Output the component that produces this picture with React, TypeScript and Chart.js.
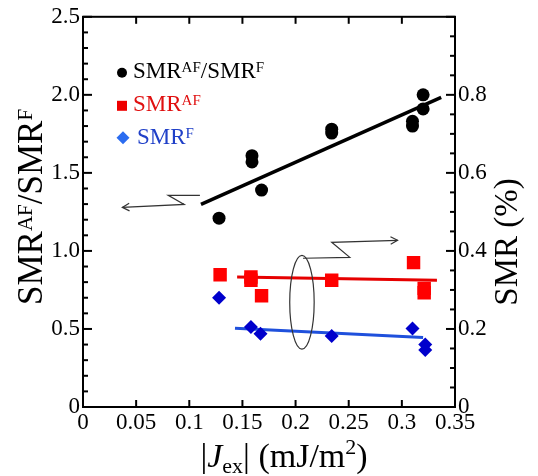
import React, { useEffect, useRef } from 'react';
import { Chart, registerables } from 'chart.js';
Chart.register(...registerables);

// ---- data ----
const xTickLabels = ['0', '0.05', '0.1', '0.15', '0.2', '0.25', '0.3', '0.35'];
const leftTickLabels = ['0', '0.5', '1.0', '1.5', '2.0', '2.5'];
const rightTickLabels = ['0', '0.2', '0.4', '0.6', '0.8', ''];

// SMR^AF / SMR^F (left axis)
const ratioX = [0.128, 0.159, 0.159, 0.168, 0.234, 0.234, 0.310, 0.310, 0.320, 0.320];
const ratioY = [1.21, 1.61, 1.57, 1.39, 1.78, 1.755, 1.83, 1.80, 2.00, 1.91];

// SMR^AF (%) (right axis)
const afX = [0.129, 0.158, 0.158, 0.168, 0.234, 0.311, 0.321, 0.321];
const afY = [0.339, 0.333, 0.325, 0.285, 0.325, 0.370, 0.304, 0.293];

// SMR^F (%) (right axis)
const fX = [0.128, 0.158, 0.167, 0.234, 0.310, 0.322, 0.322];
const fY = [0.280, 0.205, 0.188, 0.182, 0.201, 0.160, 0.146];

// linear fits
const ratioFitX = [0.111, 0.337];
const ratioFitY = [1.298, 1.984];
const afFitX = [0.145, 0.333];
const afFitY = [0.333, 0.325];
const fFitX = [0.143, 0.320];
const fFitY = [0.202, 0.178];

const toPts = (xs: number[], ys: number[]) => xs.map((x, i) => ({ x, y: ys[i] }));

const SERIF = '"Liberation Serif", "Times New Roman", serif';

type Seg = { t: string; size: number; dy?: number; italic?: boolean };

function richWidth(ctx: CanvasRenderingContext2D, segs: Seg[]) {
  let w = 0;
  for (const s of segs) {
    ctx.font = `${s.italic ? 'italic ' : ''}${s.size}px ${SERIF}`;
    w += ctx.measureText(s.t).width;
  }
  return w;
}

function drawRich(ctx: CanvasRenderingContext2D, segs: Seg[], x: number, y: number, color: string, align: 'left' | 'center') {
  const total = richWidth(ctx, segs);
  let cx = align === 'center' ? x - total / 2 : x;
  ctx.fillStyle = color;
  ctx.textAlign = 'left';
  ctx.textBaseline = 'alphabetic';
  for (const s of segs) {
    ctx.font = `${s.italic ? 'italic ' : ''}${s.size}px ${SERIF}`;
    ctx.fillText(s.t, cx, y + (s.dy || 0));
    cx += ctx.measureText(s.t).width;
  }
}

const decorPlugin = {
  id: 'decor',
  afterDatasetsDraw(chart: any) {
    const { ctx, chartArea: a, scales } = chart;
    const xs = scales.x, yl = scales.y, yr = scales.y2;
    ctx.save();
    const line = (x1: number, y1: number, x2: number, y2: number) => {
      ctx.beginPath();
      ctx.moveTo(x1, y1);
      ctx.lineTo(x2, y2);
      ctx.stroke();
    };
    // frame
    ctx.strokeStyle = '#000';
    ctx.lineWidth = 2;
    ctx.strokeRect(a.left, a.top, a.right - a.left, a.bottom - a.top);
    // x ticks (inside, top and bottom)
    xs.ticks.forEach((t: any) => {
      const px = xs.getPixelForValue(t.value);
      line(px, a.bottom, px, a.bottom - 7);
      line(px, a.top, px, a.top + 7);
    });
    // left ticks
    for (let k = 0; k <= 25; k++) {
      const py = yl.getPixelForValue(k / 10);
      line(a.left, py, a.left + (k % 5 === 0 ? 9 : 5), py);
    }
    // right ticks
    for (let k = 0; k <= 20; k++) {
      const py = yr.getPixelForValue(k * 0.05);
      line(a.right - (k % 4 === 0 ? 9 : 5), py, a.right, py);
    }

    // annotations (data coords on left axis)
    const P = (x: number, y: number) => [xs.getPixelForValue(x), yl.getPixelForValue(y)];
    ctx.strokeStyle = '#333';
    ctx.lineWidth = 1.2;
    const poly = (pts: number[][]) => {
      ctx.beginPath();
      ctx.moveTo(pts[0][0], pts[0][1]);
      for (let i = 1; i < pts.length; i++) ctx.lineTo(pts[i][0], pts[i][1]);
      ctx.stroke();
    };
    const head = (tip: number[], from: number[]) => {
      const ang = Math.atan2(tip[1] - from[1], tip[0] - from[0]);
      const L = 8, sp = 0.5;
      poly([
        [tip[0] - L * Math.cos(ang - sp), tip[1] - L * Math.sin(ang - sp)],
        tip,
        [tip[0] - L * Math.cos(ang + sp), tip[1] - L * Math.sin(ang + sp)],
      ]);
    };
    const lA = [P(0.110, 1.356), P(0.0802, 1.356), P(0.0952, 1.298), P(0.037, 1.279)];
    poly(lA);
    head(lA[3], lA[2]);
    const rA = [P(0.207, 0.953), P(0.251, 0.959), P(0.234, 1.055), P(0.296, 1.068)];
    poly(rA);
    head(rA[3], rA[2]);
    // ellipse
    const c = P(0.206, 0.671);
    const rx = xs.getPixelForValue(0.206 + 0.0115) - c[0];
    const ry = yl.getPixelForValue(0.671) - yl.getPixelForValue(0.671 + 0.30);
    ctx.beginPath();
    ctx.ellipse(c[0], c[1], rx, ry, 0, 0, Math.PI * 2);
    ctx.stroke();

    // legend
    const lx = a.left + 39;
    ctx.fillStyle = '#000';
    ctx.beginPath();
    ctx.arc(lx, a.top + 56, 5, 0, Math.PI * 2);
    ctx.fill();
    drawRich(ctx, [{ t: 'SMR', size: 23 }, { t: 'AF', size: 15, dy: -6 }, { t: '/SMR', size: 23 }, { t: 'F', size: 15, dy: -6 }], a.left + 50, a.top + 61, '#000', 'left');
    ctx.fillStyle = '#ee0000';
    ctx.fillRect(lx - 5, a.top + 84, 10, 10);
    drawRich(ctx, [{ t: 'SMR', size: 23 }, { t: 'AF', size: 15, dy: -6 }], a.left + 50, a.top + 94, '#e01010', 'left');
    ctx.fillStyle = '#2b6cf0';
    ctx.beginPath();
    const dy0 = a.top + 121;
    ctx.moveTo(lx + 1, dy0 - 6.5);
    ctx.lineTo(lx + 7.5, dy0);
    ctx.lineTo(lx + 1, dy0 + 6.5);
    ctx.lineTo(lx - 5.5, dy0);
    ctx.closePath();
    ctx.fill();
    drawRich(ctx, [{ t: 'SMR', size: 23 }, { t: 'F', size: 15, dy: -6 }], a.left + 54, a.top + 127, '#2040c8', 'left');

    // axis titles
    ctx.save();
    ctx.translate(42, 207);
    ctx.rotate(-Math.PI / 2);
    drawRich(ctx, [{ t: 'SMR', size: 35 }, { t: 'AF', size: 21, dy: -10 }, { t: '/SMR', size: 35 }, { t: 'F', size: 21, dy: -10 }], 0, 0, '#000', 'center');
    ctx.restore();

    ctx.save();
    ctx.translate(517, 242);
    ctx.rotate(-Math.PI / 2);
    drawRich(ctx, [{ t: 'SMR (%)', size: 33 }], 0, 0, '#000', 'center');
    ctx.restore();

    drawRich(ctx, [
      { t: '|', size: 34 },
      { t: 'J', size: 34, italic: true },
      { t: 'ex', size: 22, dy: 6 },
      { t: '| (mJ/m', size: 34 },
      { t: '2', size: 22, dy: -13 },
      { t: ')', size: 34 },
    ], 284, 467, '#000', 'center');

    ctx.restore();
  },
};

export default function App() {
  const ref = useRef<HTMLCanvasElement>(null);
  useEffect(() => {
    const tickFont = { family: SERIF, size: 23 };
    const chart = new Chart(ref.current!, {
      type: 'scatter',
      data: {
        datasets: [
          {
            label: 'SMRAF/SMRF',
            data: toPts(ratioX, ratioY),
            yAxisID: 'y',
            pointStyle: 'circle',
            pointRadius: 6.5,
            backgroundColor: '#000',
            borderColor: '#000',
            borderWidth: 0,
            order: 0,
          },
          {
            label: 'SMRAF',
            data: toPts(afX, afY),
            yAxisID: 'y2',
            pointStyle: 'rect',
            pointRadius: 9.5,
            backgroundColor: '#ff0000',
            borderColor: '#ff0000',
            borderWidth: 0,
            order: 0,
          },
          {
            label: 'SMRF',
            data: toPts(fX, fY),
            yAxisID: 'y2',
            pointStyle: 'rectRot',
            pointRadius: 7,
            backgroundColor: '#0000cc',
            borderColor: '#0000cc',
            borderWidth: 0,
            order: 0,
          },
          {
            type: 'line',
            label: 'fit ratio',
            data: toPts(ratioFitX, ratioFitY),
            yAxisID: 'y',
            borderColor: '#000',
            borderWidth: 3.5,
            pointRadius: 0,
            showLine: true,
            order: 1,
          } as any,
          {
            type: 'line',
            label: 'fit AF',
            data: toPts(afFitX, afFitY),
            yAxisID: 'y2',
            borderColor: '#e60000',
            borderWidth: 3,
            pointRadius: 0,
            showLine: true,
            order: 1,
          } as any,
          {
            type: 'line',
            label: 'fit F',
            data: toPts(fFitX, fFitY),
            yAxisID: 'y2',
            borderColor: '#1f50dc',
            borderWidth: 3,
            pointRadius: 0,
            showLine: true,
            order: 1,
          } as any,
        ],
      },
      options: {
        responsive: false,
        animation: false,
        layout: { padding: { top: 16, left: 0, right: 0, bottom: 0 } },
        plugins: { legend: { display: false }, tooltip: { enabled: false } },
        scales: {
          x: {
            type: 'linear',
            position: 'bottom',
            min: 0,
            max: 0.35,
            grid: { display: false, drawTicks: false },
            border: { display: false },
            ticks: {
              stepSize: 0.05,
              font: tickFont,
              color: '#000',
              padding: 2,
              maxRotation: 0,
              autoSkip: false,
              callback: (_v: any, i: number) => xTickLabels[i] ?? '',
            },
            afterFit: (s: any) => { s.height = 69; },
          },
          y: {
            type: 'linear',
            position: 'left',
            min: 0,
            max: 2.5,
            grid: { display: false, drawTicks: false },
            border: { display: false },
            ticks: {
              stepSize: 0.5,
              font: tickFont,
              color: '#000',
              padding: 3,
              callback: (_v: any, i: number) => leftTickLabels[i] ?? '',
            },
            afterFit: (s: any) => { s.width = 83; },
          },
          y2: {
            type: 'linear',
            position: 'right',
            min: 0,
            max: 1,
            grid: { display: false, drawTicks: false },
            border: { display: false },
            ticks: {
              stepSize: 0.2,
              font: tickFont,
              color: '#000',
              padding: 3,
              callback: (_v: any, i: number) => rightTickLabels[i] ?? '',
            },
            afterFit: (s: any) => { s.width = 83; },
          },
        },
      },
      plugins: [decorPlugin],
    });
    return () => chart.destroy();
  }, []);
  return (
    <canvas
      ref={ref}
      width={538}
      height={476}
      style={{ position: 'fixed', left: 0, top: 0, display: 'block', background: '#fff' }}
    />
  );
}
